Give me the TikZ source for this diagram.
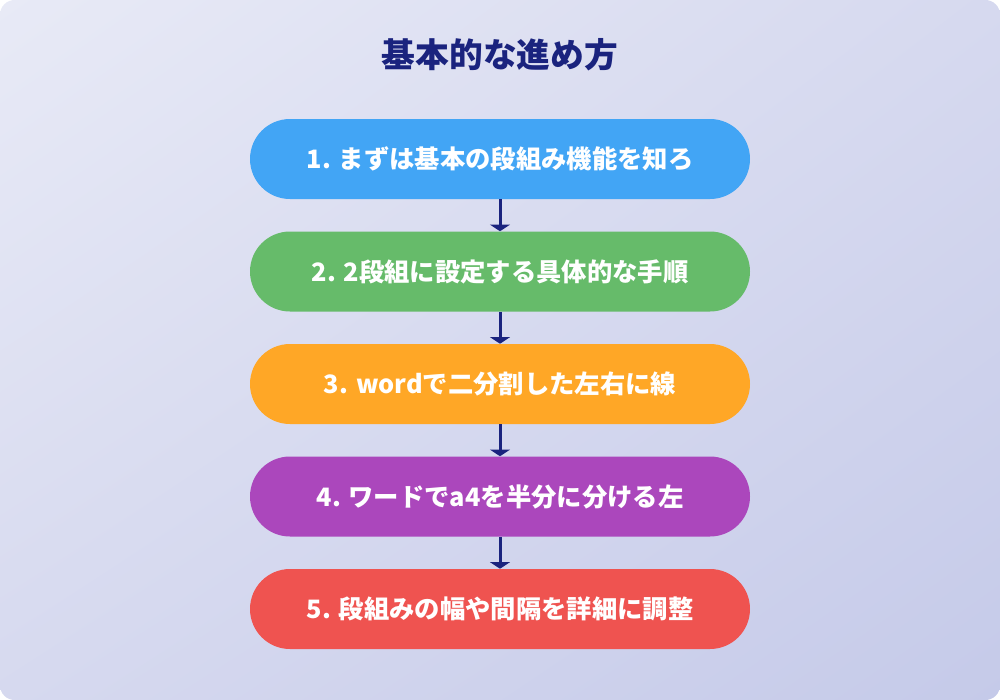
\documentclass[tikz,border=0pt]{standalone}
\usepackage{fontspec}
\setmainfont{Noto Sans CJK JP}
\usepackage{xcolor}
\usepackage{tikz}
\usetikzlibrary{arrows.meta,positioning,shadings}
\tikzset{>={Triangle[length=5pt,width=15pt]}}

\definecolor{bgTL}{HTML}{E8EAF6}
\definecolor{bgBR}{HTML}{C5CAE9}
\definecolor{bgMid}{HTML}{D6D9EF}
\definecolor{navy}{HTML}{1A237E}
\definecolor{stepBlue}{HTML}{42A5F5}
\definecolor{stepGreen}{HTML}{66BB6A}
\definecolor{stepOrange}{HTML}{FFA726}
\definecolor{stepPurple}{HTML}{AB47BC}
\definecolor{stepRed}{HTML}{EF5350}

\tikzset{
  stepbox/.style={rectangle, rounded corners=30pt, minimum width=375pt,
    minimum height=60pt, text=white, font=\bfseries\fontsize{19}{23}\selectfont,
    inner sep=0pt},
  flow/.style={->, navy, line width=2.25pt},
}

\begin{document}
\begin{tikzpicture}[x=0.75pt,y=-0.75pt]
    \useasboundingbox (0,0) rectangle (1000,700);
    \shade[rounded corners=11pt, upper left=bgTL, upper right=bgMid,
      lower left=bgMid, lower right=bgBR] (0,0) rectangle (1000,700);

    \node[navy, font=\bfseries\fontsize{25.3}{30}\selectfont] (title) at (500,55) {基本的な進め方};

    \node[stepbox, fill=stepBlue]   (s1) at (500,159)   {1. まずは基本の段組み機能を知ろ};
    \node[stepbox, fill=stepGreen]  (s2) at (500,271.5) {2. 2段組に設定する具体的な手順};
    \node[stepbox, fill=stepOrange] (s3) at (500,384)   {3. wordで二分割した左右に線};
    \node[stepbox, fill=stepPurple] (s4) at (500,496.5) {4. ワードでa4を半分に分ける左};
    \node[stepbox, fill=stepRed]    (s5) at (500,609)   {5. 段組みの幅や間隔を詳細に調整};

    \draw[flow] (s1) -- (s2);
    \draw[flow] (s2) -- (s3);
    \draw[flow] (s3) -- (s4);
    \draw[flow] (s4) -- (s5);
\end{tikzpicture}
\end{document}
